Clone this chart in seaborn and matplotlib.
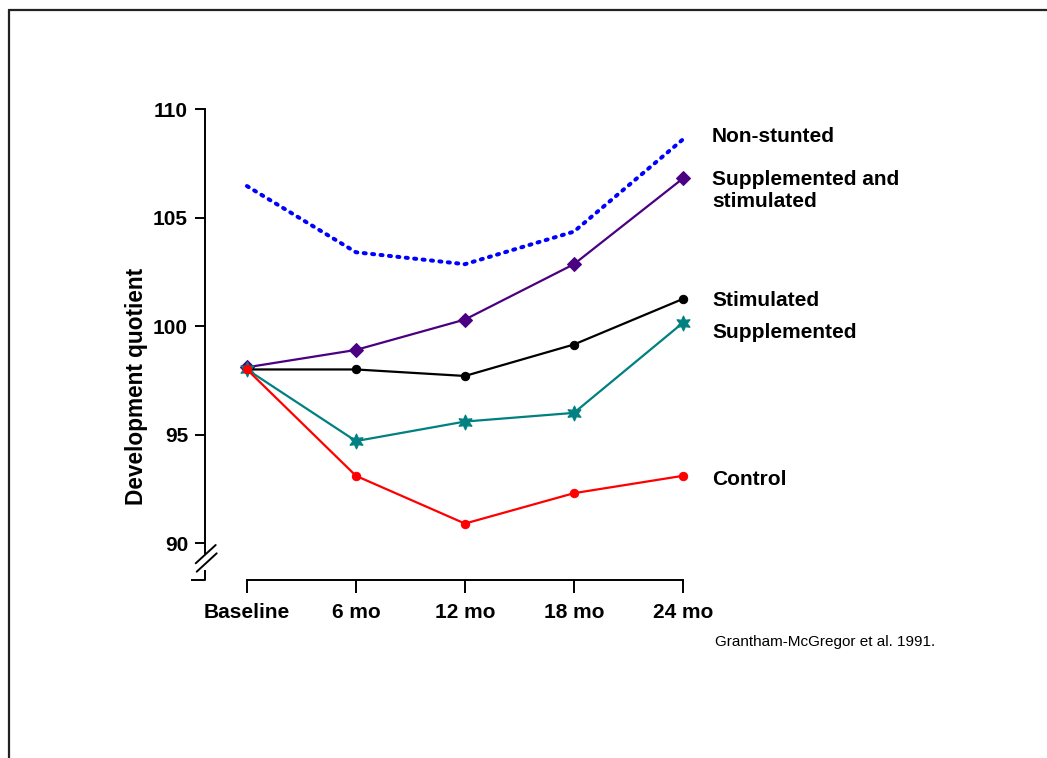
import matplotlib
matplotlib.use("Agg")
import matplotlib.pyplot as plt
import seaborn as sns
import pandas as pd
from matplotlib.lines import Line2D

# ---- data ----
timepoints = ["Baseline", "6 mo", "12 mo", "18 mo", "24 mo"]
months = [0, 6, 12, 18, 24]
non_stunted = [106.45, 103.4, 102.85, 104.35, 108.6]
supp_and_stim = [98.1, 98.9, 100.3, 102.85, 106.8]
stimulated = [98.0, 98.0, 97.7, 99.15, 101.25]
supplemented = [98.0, 94.7, 95.6, 96.0, 100.15]
control = [98.0, 93.1, 90.9, 92.3, 93.1]
series_names = ["Non-stunted", "Supplemented and\nstimulated", "Stimulated",
                "Supplemented", "Control"]
series_values = [non_stunted, supp_and_stim, stimulated, supplemented, control]
y_ticks = [90, 95, 100, 105, 110]
citation = "Grantham-McGregor et al. 1991."

# ---- styles ----
styles = {
    "Non-stunted": dict(color="#0000FF", lw=2.9, ls=(0, (0.5, 1.6)), marker=None, ms=0),
    "Supplemented and\nstimulated": dict(color="#4B0082", lw=1.6, ls="-", marker="D", ms=7.5),
    "Stimulated": dict(color="#000000", lw=1.6, ls="-", marker="o", ms=6),
    "Supplemented": dict(color="#008080", lw=1.6, ls="-", marker=(6, 1, 0), ms=11),
    "Control": dict(color="#FF0000", lw=1.6, ls="-", marker="o", ms=6),
}
label_y = {"Non-stunted": 108.75, "Supplemented and\nstimulated": 106.25,
           "Stimulated": 101.2, "Supplemented": 99.7, "Control": 92.95}

sns.set_style("white")
plt.rcParams["font.family"] = ["Liberation Sans", "DejaVu Sans"]
plt.rcParams.update({"text.color": "black", "axes.labelcolor": "black",
                     "xtick.color": "black", "ytick.color": "black"})

fig = plt.figure(figsize=(10.47, 7.58), dpi=100)
ax = fig.add_axes([205 / 1047, 1 - 580 / 758, 485 / 1047, 471 / 758])

frames = []
for name, vals in zip(series_names, series_values):
    frames.append(pd.DataFrame({"month": months, "value": vals, "series": name}))
df = pd.concat(frames, ignore_index=True)

for name in series_names:
    st = styles[name]
    sub = df[df["series"] == name]
    kw = dict(color=st["color"], linewidth=st["lw"], linestyle=st["ls"])
    if st["marker"] is not None:
        kw.update(marker=st["marker"], markersize=st["ms"],
                  markeredgecolor=st["color"], markerfacecolor=st["color"])
    sns.lineplot(data=sub, x="month", y="value", ax=ax, legend=False,
                 clip_on=False, solid_capstyle="butt", dash_capstyle="round", **kw)
    ax.text(25.6, label_y[name], name, fontsize=15, fontweight="bold",
            ha="left", va="center", linespacing=1.15, color="black")

ax.set_xlim(-2.31, 24.39)
ax.set_ylim(88.3, 110)
ax.set_xticks(months)
ax.set_xticklabels(timepoints)
ax.set_yticks(y_ticks)
ax.set_yticklabels([str(v) for v in y_ticks])
ax.set_xlabel("")
ax.set_ylabel("Development quotient", fontsize=16.3, fontweight="bold", color="black")
ax.yaxis.set_label_coords(-0.1175, 0.412)

for lab in ax.get_xticklabels() + ax.get_yticklabels():
    lab.set_fontweight("bold")
    lab.set_fontsize(15)
    lab.set_color("black")

ax.tick_params(axis="x", direction="out", length=9.4, width=1.4, pad=7,
               bottom=True, color="black")
ax.tick_params(axis="y", direction="out", length=7.2, width=1.4, pad=5,
               left=True, color="black")

for s in ["top", "right"]:
    ax.spines[s].set_visible(False)
for s in ["left", "bottom"]:
    ax.spines[s].set_color("black")
    ax.spines[s].set_linewidth(1.4)
ax.spines["bottom"].set_bounds(0, 24)
ax.spines["left"].set_bounds(89.54, 110)

# axis break decorations (axes fraction coords)
tr = ax.transAxes
ax.plot([-14 / 485, 0, 0], [0, 0, 10 / 471], transform=tr, color="black",
        lw=1.4, clip_on=False, solid_capstyle="butt")
ax.plot([-9.3 / 485, 10.7 / 485], [16.7 / 471, 35 / 471], transform=tr,
        color="black", lw=1.4, clip_on=False)
ax.plot([-8.3 / 485, 11.7 / 485], [8.3 / 471, 26.7 / 471], transform=tr,
        color="black", lw=1.4, clip_on=False)

fig.text(715 / 1047, 1 - 642 / 758, citation, fontsize=11, ha="left", va="center",
         color="black")

# slide frame
fig.add_artist(Line2D([9 / 1047, 1], [1 - 10 / 758, 1 - 10 / 758],
                      transform=fig.transFigure, color="#222222", lw=1.6))
fig.add_artist(Line2D([9 / 1047, 9 / 1047], [0, 1 - 10 / 758],
                      transform=fig.transFigure, color="#222222", lw=1.6))

fig.savefig("out.png", dpi=100, facecolor="white")
